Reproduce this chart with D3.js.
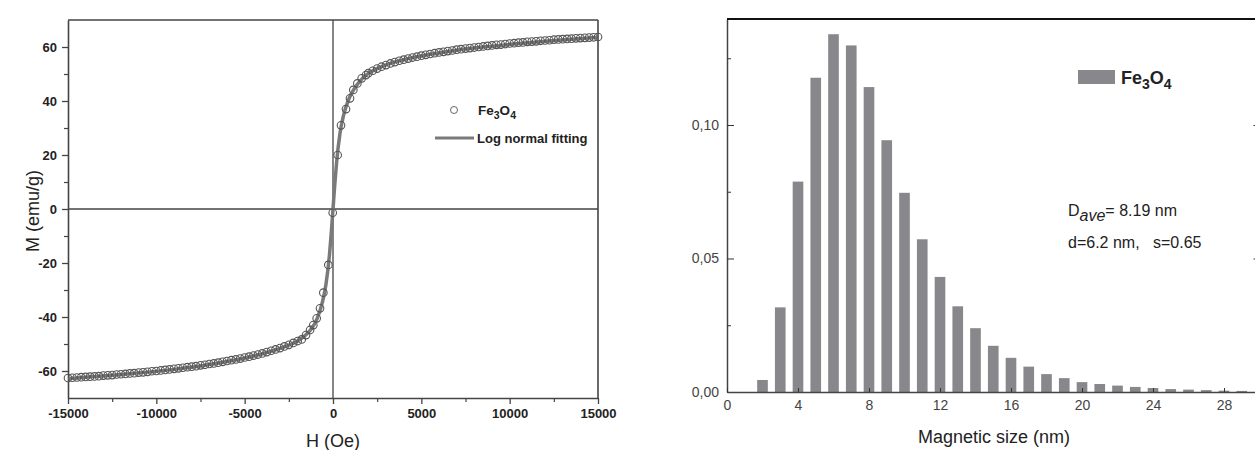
<!DOCTYPE html>
<html>
<head>
<meta charset="utf-8">
<script src="https://cdn.jsdelivr.net/npm/d3@7"></script>
<style>
  body { margin: 0; background: #fff; }
  svg { display: block; font-family: "Liberation Sans", Arial, sans-serif; }
</style>
</head>
<body>
<div id="chart"></div>
<script>
var hPoints = [-15000,-14750,-14500,-14250,-14000,-13750,-13500,-13250,-13000,-12750,-12500,-12250,-12000,-11750,-11500,-11250,-11000,-10750,-10500,-10250,-10000,-9750,-9500,-9250,-9000,-8750,-8500,-8250,-8000,-7750,-7500,-7250,-7000,-6750,-6500,-6250,-6000,-5750,-5500,-5250,-5000,-4750,-4500,-4250,-4000,-3750,-3500,-3250,-3000,-2750,-2500,-2250,-2000,
  -1771,-1528,-1300,-1113,-924,-735,-547,-264,-17,264,453,736,962,1150,1377,1623,1868,
  2000,2250,2500,2750,3000,3250,3500,3750,4000,4250,4500,4750,5000,5250,5500,5750,6000,6250,6500,6750,7000,7250,7500,7750,8000,8250,8500,8750,9000,9250,9500,9750,10000,10250,10500,10750,11000,11250,11500,11750,12000,12250,12500,12750,13000,13250,13500,13750,14000,14250,14500,14750,15000];
var mPoints = [-62.6,-62.5,-62.4,-62.3,-62.2,-62.1,-62.0,-61.9,-61.7,-61.6,-61.5,-61.3,-61.2,-61.1,-60.9,-60.8,-60.6,-60.5,-60.3,-60.1,-60.0,-59.8,-59.6,-59.4,-59.2,-59.0,-58.8,-58.6,-58.4,-58.2,-57.9,-57.7,-57.4,-57.2,-56.9,-56.6,-56.3,-56.0,-55.7,-55.4,-55.0,-54.7,-54.3,-53.9,-53.5,-53.0,-52.5,-52.0,-51.5,-50.9,-50.3,-49.6,-48.9,
  -48.3,-46.7,-44.8,-43.0,-40.5,-36.8,-31.0,-20.7,-1.4,20.0,31.0,37.0,41.0,44.1,46.5,48.4,49.6,
  50.3,51.2,52.0,52.7,53.3,53.9,54.4,54.9,55.3,55.7,56.1,56.4,56.8,57.1,57.4,57.7,58.0,58.2,58.5,58.7,59.0,59.2,59.4,59.6,59.8,60.0,60.2,60.4,60.6,60.8,60.9,61.1,61.3,61.4,61.6,61.7,61.9,62.0,62.1,62.3,62.4,62.5,62.7,62.8,62.9,63.0,63.1,63.2,63.3,63.4,63.5,63.6,63.7];
// log normal fit curve
var hFit = [-15000,-12000,-9000,-7000,-5000,-4000,-3000,-2500,-2000,-1500,-1200,-900,-600,-400,-200,-100,0,100,200,400,600,900,1200,1500,2000,2500,3000,4000,5000,7000,9000,12000,15000];
var mFit = [-62.8,-61.3,-59.4,-57.6,-55.2,-53.6,-51.6,-50.4,-48.9,-46.4,-44.2,-40.6,-34.5,-28.0,-17.0,-9.0,0,9.0,17.0,28.2,34.8,40.8,44.5,47.2,50.2,52.0,53.4,55.3,56.7,58.8,60.3,62.1,63.6];
var hTicks = [-15000,-10000,-5000,0,5000,10000,15000];
var mTicks = [-60,-40,-20,0,20,40,60];

// ---- right panel: size histogram
var sizes = [1,2,3,4,5,6,7,8,9,10,11,12,13,14,15,16,17,18,19,20,21,22,23,24,25,26,27,28,29];
var freq = [0,0.0045,0.0317,0.0788,0.1177,0.134,0.1298,0.1142,0.0943,0.0746,0.0572,0.0431,0.0321,0.0239,0.0173,0.0128,0.0095,0.0067,0.0052,0.0037,0.003,0.0024,0.0019,0.0015,0.0011,0.0009,0.0007,0.0005,0.0004];
var sizeTicks = [0,4,8,12,16,20,24,28];
var freqTicks = [0,0.05,0.10];

var W = 1255, H = 450;
var svg = d3.select("#chart").append("svg")
    .attr("width", W)
    .attr("height", H);

drawLoop();
drawHist();

function drawLoop() {
    var left = 68, right = 598, top = 20, bottom = 398;
    var x = d3.scaleLinear().domain([-15000, 15000]).range([left, right]);
    var y = d3.scaleLinear().domain([-70, 70]).range([bottom, top]);
    var axisColor = "#444";
    var g = svg.append("g");

    // minor ticks
    g.append("g")
        .attr("transform", "translate(0," + bottom + ")")
        .call(d3.axisBottom(x).tickValues(d3.range(-12500, 15000, 5000)).tickSize(4).tickFormat(""))
        .call(function(a) { a.select(".domain").remove(); a.selectAll("line").attr("stroke", axisColor).attr("stroke-width", 1.2); });
    g.append("g")
        .attr("transform", "translate(" + left + ",0)")
        .call(d3.axisLeft(y).tickValues(d3.range(-50, 70, 20)).tickSize(4).tickFormat(""))
        .call(function(a) { a.select(".domain").remove(); a.selectAll("line").attr("stroke", axisColor).attr("stroke-width", 1.2); });

    var xAxis = g.append("g")
        .attr("transform", "translate(0," + bottom + ")")
        .call(d3.axisBottom(x).tickValues(hTicks).tickSize(6).tickSizeOuter(0).tickPadding(5)
            .tickFormat(function(d) { return String(d); }));
    var yAxis = g.append("g")
        .attr("transform", "translate(" + left + ",0)")
        .call(d3.axisLeft(y).tickValues(mTicks).tickSize(6).tickSizeOuter(0).tickPadding(5)
            .tickFormat(function(d) { return String(d); }));
    [xAxis, yAxis].forEach(function(a) {
        a.select(".domain").attr("stroke", axisColor).attr("stroke-width", 1.6);
        a.selectAll(".tick line").attr("stroke", axisColor).attr("stroke-width", 1.3);
        a.selectAll("text").attr("font-size", 13).attr("font-weight", "bold").attr("fill", "#222");
    });

    // frame + zero lines
    g.append("line").attr("x1", left).attr("x2", right).attr("y1", top).attr("y2", top)
        .attr("stroke", axisColor).attr("stroke-width", 1.6);
    g.append("line").attr("x1", right).attr("x2", right).attr("y1", top).attr("y2", bottom)
        .attr("stroke", axisColor).attr("stroke-width", 1.6);
    g.append("line").attr("x1", left).attr("x2", right).attr("y1", y(0)).attr("y2", y(0))
        .attr("stroke", axisColor).attr("stroke-width", 1.3);
    g.append("line").attr("x1", x(0)).attr("x2", x(0)).attr("y1", top).attr("y2", bottom)
        .attr("stroke", axisColor).attr("stroke-width", 1.3);

    var line = d3.line()
        .x(function(d, i) { return x(hFit[i]); })
        .y(function(d, i) { return y(mFit[i]); })
        .curve(d3.curveMonotoneX);
    g.append("path")
        .datum(hFit)
        .attr("d", line)
        .attr("fill", "none")
        .attr("stroke", "#7a7a7a")
        .attr("stroke-width", 3.5);

    g.append("g").selectAll("circle")
        .data(hPoints)
        .enter().append("circle")
        .attr("cx", function(d) { return x(d); })
        .attr("cy", function(d, i) { return y(mPoints[i]); })
        .attr("r", 3.8)
        .attr("fill", "none")
        .attr("stroke", "#555")
        .attr("stroke-width", 1.1);

    // legend
    var lg = g.append("g").attr("font-size", 13.5).attr("font-weight", "bold").attr("fill", "#222");
    lg.append("circle").attr("cx", 454).attr("cy", 110).attr("r", 3.5)
        .attr("fill", "none").attr("stroke", "#555").attr("stroke-width", 0.9);
    var t1 = lg.append("text").attr("x", 478).attr("y", 115);
    t1.append("tspan").text("Fe");
    t1.append("tspan").attr("font-size", 10.5).attr("dy", 4).text("3");
    t1.append("tspan").attr("dy", -4).text("O");
    t1.append("tspan").attr("font-size", 10.5).attr("dy", 4).text("4");
    lg.append("line").attr("x1", 435).attr("x2", 474).attr("y1", 138).attr("y2", 138)
        .attr("stroke", "#7a7a7a").attr("stroke-width", 3);
    lg.append("text").attr("x", 477).attr("y", 143).attr("font-size", 13).text("Log normal fitting");

    // titles
    svg.append("text")
        .attr("x", x(0)).attr("y", 447)
        .attr("text-anchor", "middle").attr("font-size", 18).attr("fill", "#222")
        .text("H (Oe)");
    svg.append("text")
        .attr("transform", "translate(39," + (y(0) + 2) + ") rotate(-90)")
        .attr("text-anchor", "middle").attr("font-size", 18).attr("fill", "#222")
        .text("M (emu/g)");
}

function drawHist() {
    var left = 727, right = 1259.5, top = 19, bottom = 392;
    var x = d3.scaleLinear().domain([0, 30]).range([left, right]);
    var y = d3.scaleLinear().domain([0, 0.1397]).range([bottom, top]);
    var barW = x(0.6) - x(0);
    var g = svg.append("g");
    var fmt = function(d) { return d3.format(".2f")(d).replace(".", ","); };

    g.append("g").selectAll("rect")
        .data(sizes)
        .enter().append("rect")
        .attr("x", function(d) { return x(d) - barW / 2; })
        .attr("width", barW)
        .attr("y", function(d, i) { return y(freq[i]); })
        .attr("height", function(d, i) { return bottom - y(freq[i]); })
        .attr("fill", "#88888c");

    var yAxis = g.append("g")
        .attr("transform", "translate(" + left + ",0)")
        .call(d3.axisLeft(y).tickValues(freqTicks).tickSize(-7).tickSizeOuter(0).tickPadding(8).tickFormat(fmt));
    g.append("g")
        .attr("transform", "translate(" + left + ",0)")
        .call(d3.axisLeft(y).tickValues([0.025, 0.075, 0.125]).tickSize(-4).tickFormat(""))
        .call(function(a) { a.select(".domain").remove(); });
    g.append("g")
        .attr("transform", "translate(" + right + ",0)")
        .call(d3.axisRight(y).tickValues(freqTicks).tickSize(-6).tickFormat(""))
        .call(function(a) { a.select(".domain").remove(); });
    var xAxis = g.append("g")
        .attr("transform", "translate(0," + bottom + ")")
        .call(d3.axisBottom(x).tickValues(sizeTicks).tickSize(-4).tickSizeOuter(0).tickPadding(8)
            .tickFormat(function(d) { return String(d); }));
    [xAxis, yAxis].forEach(function(a) {
        a.select(".domain").attr("stroke", "#444").attr("stroke-width", 1.5);
        a.selectAll("text").attr("font-size", 14).attr("fill", "#444");
    });
    g.selectAll(".tick line").attr("stroke", "#333");

    g.append("line").attr("x1", left).attr("x2", W).attr("y1", top).attr("y2", top)
        .attr("stroke", "#111").attr("stroke-width", 2);

    // legend
    g.append("rect").attr("x", 1078).attr("y", 70).attr("width", 37).attr("height", 14).attr("fill", "#88888c");
    var t = g.append("text").attr("x", 1121).attr("y", 84).attr("font-size", 18)
        .attr("font-weight", "bold").attr("fill", "#222");
    t.append("tspan").text("Fe");
    t.append("tspan").attr("font-size", 14).attr("dy", 5).text("3");
    t.append("tspan").attr("dy", -5).text("O");
    t.append("tspan").attr("font-size", 14).attr("dy", 5).text("4");

    // annotations
    var a1 = g.append("text").attr("x", 1068).attr("y", 216).attr("font-size", 16).attr("fill", "#222");
    a1.append("tspan").text("D");
    a1.append("tspan").attr("dy", 5).attr("font-style", "italic").text("ave");
    a1.append("tspan").attr("dy", -5).text("= 8.19 nm");
    g.append("text").attr("x", 1068).attr("y", 248).attr("font-size", 16).attr("fill", "#222")
        .style("white-space", "pre")
        .text("d=6.2 nm,   s=0.65");

    svg.append("text")
        .attr("x", 994).attr("y", 443)
        .attr("text-anchor", "middle").attr("font-size", 18).attr("fill", "#222")
        .text("Magnetic size (nm)");
}
</script>
</body>
</html>
